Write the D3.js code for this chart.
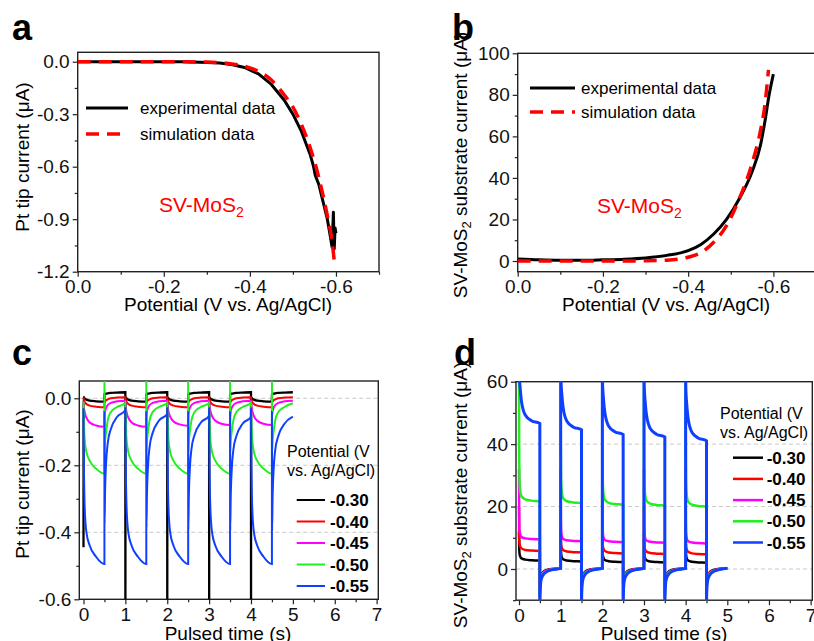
<!DOCTYPE html>
<meta charset="utf-8">
<style>
body { margin: 0; background: #fff; }
svg { font-family: "Liberation Sans", Arial, sans-serif; }
</style>
<svg width="814" height="641"></svg>
<script src="https://d3js.org/d3.v7.min.js"></script>
<script>
// ---- panel a : Pt tip current vs potential ----
var potExpA = [0, -0.1, -0.2, -0.25, -0.3, -0.33, -0.36, -0.39, -0.42, -0.45, -0.48, -0.5, -0.52, -0.54, -0.548, -0.552, -0.56, -0.57, -0.58, -0.587, -0.591, -0.594, -0.596, -0.598, -0.6];
var tipExpA = [0, 0, 0, -0.001, -0.004, -0.008, -0.017, -0.035, -0.07, -0.13, -0.22, -0.3, -0.4, -0.53, -0.6, -0.65, -0.7, -0.8, -0.9, -1.0, -1.06, -0.86, -1.07, -0.95, -0.98];
var potSimA = [0, -0.1, -0.2, -0.3, -0.35, -0.4, -0.42, -0.45, -0.48, -0.5, -0.52, -0.54, -0.56, -0.58, -0.59, -0.597];
var tipSimA = [0, 0, 0, -0.002, -0.01, -0.035, -0.055, -0.105, -0.19, -0.26, -0.36, -0.49, -0.66, -0.88, -1.01, -1.16];

// ---- panel b : substrate current vs potential ----
var potExpB = [0, -0.05, -0.1, -0.15, -0.2, -0.25, -0.3, -0.35, -0.4, -0.43, -0.46, -0.49, -0.52, -0.55, -0.57, -0.58, -0.59, -0.6];
var subExpB = [1.0, 0.6, 0.4, 0.4, 0.6, 0.9, 1.5, 2.7, 5, 8, 13, 20, 30, 43, 56, 67, 80, 90];
var potSimB = [0, -0.1, -0.2, -0.3, -0.35, -0.4, -0.43, -0.46, -0.49, -0.52, -0.55, -0.57, -0.58, -0.5885];
var subSimB = [0, 0, 0, 0.1, 0.4, 1.8, 4, 9, 17, 30, 47, 63, 75, 92];

// ---- panels c, d : pulsed potentials ----
var pulseCycles = [0, 1, 2, 3, 4];
var seriesLabels = ["-0.30", "-0.40", "-0.45", "-0.50", "-0.55"];
var seriesColors = ["#000000", "#ff0000", "#ff00ff", "#22ee22", "#1040ff"];

// tip current: time offsets inside the on (0-0.5 s) and off (0.5-1 s) half cycles
var tipOnT = [0, 0.004, 0.012, 0.03, 0.07, 0.15, 0.3, 0.5];
var tipOffT = [0, 0.004, 0.015, 0.04, 0.08, 0.15, 0.3, 0.5];
var tipOn = [
  [-0.7, 0.004, 0.002, -0.001, -0.004, -0.007, -0.009, -0.01],
  [0.003, 0.0, -0.005, -0.011, -0.017, -0.022, -0.025, -0.027],
  [-0.01, -0.02, -0.03, -0.042, -0.058, -0.072, -0.081, -0.085],
  [-0.01, -0.04, -0.08, -0.125, -0.16, -0.187, -0.21, -0.225],
  [-0.03, -0.12, -0.22, -0.33, -0.40, -0.44, -0.473, -0.495]
];
var tipOff = [
  [0.011, 0.012, 0.013, 0.014, 0.015, 0.016, 0.017, 0.018],
  [-0.012, -0.011, -0.009, -0.006, -0.003, 0.0, 0.002, 0.003],
  [-0.055, -0.05, -0.04, -0.029, -0.02, -0.014, -0.009, -0.007],
  [0.1, -0.16, -0.13, -0.1, -0.065, -0.042, -0.026, -0.015],
  [-0.04, -0.38, -0.29, -0.2, -0.14, -0.1, -0.063, -0.042]
];
var tipOnStart = [[-0.445, -0.7, -0.7, -0.7, -0.7], null, null, null, null];
var tipOnShift = [null, null, [0, 0, 0.003, 0.005, 0.005], null, null];
var tipOffShift = [null, null, null, null, [0.007, -0.004, -0.01, -0.013, -0.013]];

// substrate current
var subOnT = [0, 0.004, 0.012, 0.025, 0.06, 0.15, 0.3, 0.5];
var subOffT = [0, 0.004, 0.012, 0.03, 0.08, 0.16, 0.28, 0.5];
var subOn = [
  [12, 8, 5, 4.2, 3.4, 3.0, 2.8, 2.7],
  [20, 11, 8.2, 7.4, 6.6, 6.1, 5.9, 5.8],
  [32, 17, 12.5, 11.2, 10.2, 9.8, 9.6, 9.5],
  [66, 40, 29, 25.5, 23.3, 22.3, 21.9, 21.7],
  [75, 64, 61, 58.5, 53.7, 49.3, 47.5, 46.6]
];
var subOff = [
  [-8, -5, -3.2, -2, -1, -0.4, 0, 0.2],
  [-9, -5.5, -3.6, -2.3, -1.2, -0.5, -0.1, 0.2],
  [-10, -6, -4, -2.6, -1.3, -0.6, -0.1, 0.2],
  [-12, -7, -4.8, -2.9, -1.5, -0.7, -0.2, 0.2],
  [-14, -9, -5.8, -3.5, -1.9, -0.9, -0.3, 0.2]
];
var subOnShift = [
  [0, -0.3, -0.5, -0.6, -0.7],
  [0, -0.5, -0.8, -1, -1.1],
  [0, -0.6, -0.9, -1.1, -1.3],
  [0, -0.6, -1.1, -1.4, -1.7],
  [0, -2, -3.5, -4.3, -5.5]
];

var svg = d3.select("svg");

function pulsePoints(onT, offT, on, off, onStart, onShift, offShift) {
  var pts = [];
  pulseCycles.forEach(function(c, k) {
    onT.forEach(function(dt, j) {
      var v = on[j];
      if (j == 0 && onStart) v = onStart[k];
      if (j > 0 && onShift) v += onShift[k];
      pts.push([c + dt + (j == 0 ? 0.0005 : 0), v]);
    });
    offT.forEach(function(dt, j) {
      var v = off[j];
      if (j > 0 && offShift) v += offShift[k];
      pts.push([c + 0.5 + dt + (j == 0 ? 0.0005 : 0), v]);
    });
  });
  return pts;
}

function frame(id, x, y, o) {
  var g = svg.append("g");
  var x0 = x.range()[0], x1 = x.range()[1], y0 = y.range()[1], y1 = y.range()[0];
  svg.append("clipPath").attr("id", id).append("rect")
    .attr("x", x0).attr("y", y0).attr("width", x1 - x0).attr("height", y1 - y0);

  var xa = g.append("g").attr("transform", "translate(0," + y1 + ")")
    .call(d3.axisBottom(x).tickValues(o.xMajor).tickSize(5).tickPadding(3).tickFormat(o.xFmt));
  g.append("g").attr("transform", "translate(0," + y1 + ")")
    .call(d3.axisBottom(x).tickValues(o.xMinor).tickSize(3).tickFormat(""));
  var ya = g.append("g").attr("transform", "translate(" + x0 + ",0)")
    .call(d3.axisLeft(y).tickValues(o.yMajor).tickSize(5).tickPadding(3).tickFormat(o.yFmt));
  g.append("g").attr("transform", "translate(" + x0 + ",0)")
    .call(d3.axisLeft(y).tickValues(o.yMinor).tickSize(3).tickFormat(""));
  g.selectAll(".domain").remove();
  g.selectAll(".tick line").attr("stroke", "#222").attr("stroke-width", 1.2);
  g.selectAll(".tick text").attr("font-size", 19).attr("fill", "#111")
    .attr("font-family", "Liberation Sans, Arial, sans-serif");

  g.append("rect").attr("x", x0).attr("y", y0).attr("width", x1 - x0).attr("height", y1 - y0)
    .attr("fill", "none").attr("stroke", "#222").attr("stroke-width", 1.4);
  return g;
}

function grid(y, x, vals) {
  svg.append("g").selectAll("line").data(vals).join("line")
    .attr("x1", x.range()[0]).attr("x2", x.range()[1])
    .attr("y1", function(d) { return y(d); }).attr("y2", function(d) { return y(d); })
    .attr("stroke", "#c8c8c8").attr("stroke-width", 1).attr("stroke-dasharray", "4,3");
}

function yTitle(px, py, parts) {
  var t = svg.append("text").attr("transform", "translate(" + px + "," + py + ") rotate(-90)")
    .attr("text-anchor", "middle").attr("font-size", 19);
  parts.forEach(function(p) {
    var s = t.append("tspan").text(p[0]);
    if (p[1]) s.attr("font-size", 13).attr("dy", 4);
    else if (p[2]) s.attr("dy", -4);
  });
}

function label(px, py, txt) {
  svg.append("text").attr("x", px).attr("y", py).attr("font-size", 36)
    .attr("font-weight", "bold").text(txt);
}

var fmt1 = function(d) { return d.toFixed(1); };

// ================= panel a =================
var xA = d3.scaleLinear().domain([0, -0.7]).range([77.7, 379]);
var yA = d3.scaleLinear().domain([-1.2, 0.0537]).range([271.7, 52.3]);
frame("clipA", xA, yA, {
  xMajor: [0, -0.2, -0.4, -0.6], xMinor: [-0.1, -0.3, -0.5, -0.7], xFmt: fmt1,
  yMajor: [0, -0.3, -0.6, -0.9, -1.2], yMinor: [-0.15, -0.45, -0.75, -1.05], yFmt: fmt1
});
var lineA = d3.line().x(function(d) { return xA(d[0]); }).y(function(d) { return yA(d[1]); });
svg.append("path").datum(d3.zip(potExpA, tipExpA)).attr("clip-path", "url(#clipA)")
  .attr("d", lineA).attr("fill", "none").attr("stroke", "#000").attr("stroke-width", 3)
  .attr("stroke-linejoin", "round");
svg.append("path").datum(d3.zip(potSimA, tipSimA)).attr("clip-path", "url(#clipA)")
  .attr("d", lineA.curve(d3.curveMonotoneX)).attr("fill", "none").attr("stroke", "#ff0000")
  .attr("stroke-width", 3.5).attr("stroke-dasharray", "13,8");
lineA.curve(d3.curveLinear);

svg.append("line").attr("x1", 86).attr("x2", 128).attr("y1", 108).attr("y2", 108)
  .attr("stroke", "#000").attr("stroke-width", 3);
svg.append("line").attr("x1", 86).attr("x2", 128).attr("y1", 134).attr("y2", 134)
  .attr("stroke", "#ff0000").attr("stroke-width", 3.5).attr("stroke-dasharray", "13,8");
svg.append("text").attr("x", 140).attr("y", 114).attr("font-size", 17).text("experimental data");
svg.append("text").attr("x", 140).attr("y", 140).attr("font-size", 17).text("simulation data");
var mA = svg.append("text").attr("x", 159).attr("y", 212).attr("font-size", 21).attr("fill", "#ff0000");
mA.append("tspan").text("SV-MoS");
mA.append("tspan").attr("font-size", 14).attr("dy", 5).text("2");

svg.append("text").attr("x", 228).attr("y", 311).attr("text-anchor", "middle")
  .attr("font-size", 19).text("Potential (V vs. Ag/AgCl)");
yTitle(28.5, 157, [["Pt tip current (μA)"]]);
label(12, 40, "a");

// ================= panel b =================
var xB = d3.scaleLinear().domain([0, -0.7]).range([517.7, 816]);
var yB = d3.scaleLinear().domain([-5.15, 100]).range([271.7, 53.3]);
frame("clipB", xB, yB, {
  xMajor: [0, -0.2, -0.4, -0.6], xMinor: [-0.1, -0.3, -0.5], xFmt: fmt1,
  yMajor: [0, 20, 40, 60, 80, 100], yMinor: [10, 30, 50, 70, 90], yFmt: d3.format("d")
});
var lineB = d3.line().x(function(d) { return xB(d[0]); }).y(function(d) { return yB(d[1]); })
  .curve(d3.curveMonotoneX);
svg.append("path").datum(d3.zip(potExpB, subExpB)).attr("clip-path", "url(#clipB)")
  .attr("d", lineB).attr("fill", "none").attr("stroke", "#000").attr("stroke-width", 3);
svg.append("path").datum(d3.zip(potSimB, subSimB)).attr("clip-path", "url(#clipB)")
  .attr("d", lineB).attr("fill", "none").attr("stroke", "#ff0000")
  .attr("stroke-width", 3.5).attr("stroke-dasharray", "13,8");

svg.append("line").attr("x1", 530).attr("x2", 575).attr("y1", 88).attr("y2", 88)
  .attr("stroke", "#000").attr("stroke-width", 3);
svg.append("line").attr("x1", 530).attr("x2", 575).attr("y1", 112).attr("y2", 112)
  .attr("stroke", "#ff0000").attr("stroke-width", 3.5).attr("stroke-dasharray", "13,8");
svg.append("text").attr("x", 581).attr("y", 94).attr("font-size", 17).text("experimental data");
svg.append("text").attr("x", 581).attr("y", 118).attr("font-size", 17).text("simulation data");
var mB = svg.append("text").attr("x", 597).attr("y", 213).attr("font-size", 21).attr("fill", "#ff0000");
mB.append("tspan").text("SV-MoS");
mB.append("tspan").attr("font-size", 14).attr("dy", 5).text("2");

svg.append("text").attr("x", 666).attr("y", 311).attr("text-anchor", "middle")
  .attr("font-size", 19).text("Potential (V vs. Ag/AgCl)");
yTitle(467, 165, [["SV-MoS"], ["2", true], [" substrate current (μA)", false, true]]);
label(452, 40, "b");

// ================= panel c =================
var xC = d3.scaleLinear().domain([-0.1, 7.04]).range([79.3, 378.3]);
var yC = d3.scaleLinear().domain([-0.6, 0.0516]).range([599.3, 381]);
grid(yC, xC, [0, -0.2, -0.4]);
frame("clipC", xC, yC, {
  xMajor: d3.range(0, 8), xMinor: [0.5, 1.5, 2.5, 3.5, 4.5, 5.5, 6.5], xFmt: d3.format("d"),
  yMajor: [0, -0.2, -0.4, -0.6], yMinor: [-0.1, -0.3, -0.5], yFmt: fmt1
});
var lineC = d3.line().x(function(d) { return xC(d[0]); }).y(function(d) { return yC(d[1]); })
  .curve(d3.curveMonotoneX);
seriesLabels.forEach(function(s, i) {
  var pts = pulsePoints(tipOnT, tipOffT, tipOn[i], tipOff[i], tipOnStart[i], tipOnShift[i], tipOffShift[i]);
  svg.append("path").datum(pts).attr("clip-path", "url(#clipC)").attr("d", lineC)
    .attr("fill", "none").attr("stroke", seriesColors[i]).attr("stroke-width", i == 0 ? 2.3 : 2);
});

svg.append("text").attr("x", 287).attr("y", 457).attr("font-size", 16).text("Potential (V");
svg.append("text").attr("x", 287).attr("y", 476).attr("font-size", 16).text("vs. Ag/AgCl)");
seriesLabels.forEach(function(s, i) {
  var ly = 500 + i * 21.5;
  svg.append("line").attr("x1", 296.7).attr("x2", 325).attr("y1", ly).attr("y2", ly)
    .attr("stroke", seriesColors[i]).attr("stroke-width", 2);
  svg.append("text").attr("x", 330).attr("y", ly + 6).attr("font-size", 17)
    .attr("font-weight", "bold").text(s);
});
svg.append("text").attr("x", 228).attr("y", 640).attr("text-anchor", "middle")
  .attr("font-size", 19).text("Pulsed time (s)");
yTitle(28.5, 484, [["Pt tip current (μA)"]]);
label(12, 365, "c");

// ================= panel d =================
var xD = d3.scaleLinear().domain([-0.072, 7.04]).range([516, 812.3]);
var yD = d3.scaleLinear().domain([-10, 60]).range([600.2, 381.7]);
grid(yD, xD, [0, 20, 40]);
frame("clipD", xD, yD, {
  xMajor: d3.range(0, 8), xMinor: [0.5, 1.5, 2.5, 3.5, 4.5, 5.5, 6.5], xFmt: d3.format("d"),
  yMajor: [0, 20, 40, 60], yMinor: [-10, 10, 30, 50], yFmt: d3.format("d")
});
var lineD = d3.line().x(function(d) { return xD(d[0]); }).y(function(d) { return yD(d[1]); })
  .curve(d3.curveMonotoneX);
seriesLabels.forEach(function(s, i) {
  var pts = pulsePoints(subOnT, subOffT, subOn[i], subOff[i], null, subOnShift[i], null);
  svg.append("path").datum(pts).attr("clip-path", "url(#clipD)").attr("d", lineD)
    .attr("fill", "none").attr("stroke", seriesColors[i]).attr("stroke-width", i == 4 ? 3 : 2.5);
});

svg.append("text").attr("x", 720).attr("y", 419).attr("font-size", 16).text("Potential (V");
svg.append("text").attr("x", 720).attr("y", 438).attr("font-size", 16).text("vs. Ag/AgCl)");
seriesLabels.forEach(function(s, i) {
  var ly = 457.7 + i * 21.2;
  svg.append("line").attr("x1", 733).attr("x2", 763).attr("y1", ly).attr("y2", ly)
    .attr("stroke", seriesColors[i]).attr("stroke-width", 2.5);
  svg.append("text").attr("x", 766.7).attr("y", ly + 6).attr("font-size", 17)
    .attr("font-weight", "bold").text(s);
});
svg.append("text").attr("x", 664).attr("y", 640).attr("text-anchor", "middle")
  .attr("font-size", 19).text("Pulsed time (s)");
yTitle(467, 495, [["SV-MoS"], ["2", true], [" substrate current (μA)", false, true]]);
label(454, 365, "d");
</script>
